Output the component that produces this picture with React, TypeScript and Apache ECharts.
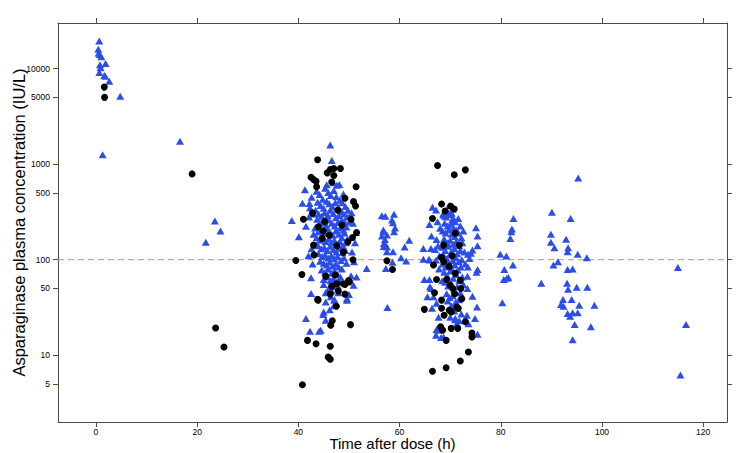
import React, { useEffect, useRef } from "react";
import * as echarts from "echarts";

// ---- axis ticks / labels ----
const xTickValues = [0, 20, 40, 60, 80, 100, 120];
const yTickValues = [5, 10, 50, 100, 500, 1000, 5000, 10000];
const xRange = [-7.5, 124.7];
const yRange = [2, 30000];
const referenceConcentration = 100;
const xTitle = "Time after dose (h)";
const yTitle = "Asparaginase plasma concentration (IU/L)";

// ---- triangles (blue) : [time (h), concentration (IU/L)] ----
const triEarly = [
  [0.65, 19400], [0.46, 15900], [0.55, 14600], [0.73, 14000], [1.05, 13300], [0.79, 11000],
  [1.9, 11300], [0.92, 10200], [0.67, 9100], [1.65, 8450], [1.85, 8300], [2.63, 7360],
  [4.8, 5130], [1.32, 1250], [16.6, 1740], [23.5, 254], [24.6, 200], [21.7, 152],
];
const triDay2Outer = [
  [46.3, 1590], [46.6, 1090], [41.3, 540], [42.6, 450], [40.8, 390], [42.2, 387], [38.7, 257],
  [40.1, 174], [41.5, 224], [43.0, 185], [48.1, 612], [48.9, 488], [51.4, 192], [42.5, 64.6],
  [45.0, 55], [46.8, 56], [47.8, 53], [50.9, 54], [53.5, 81], [42.5, 44.3], [50.0, 43.3],
  [49.6, 37.7], [45.4, 36], [47.1, 37.7], [45.0, 28.4], [44.9, 26.7], [41.5, 24.2], [45.4, 23.2],
  [42.3, 17.8], [44.1, 17.8], [44.4, 18.2], [51.5, 66], [50.4, 68], [49.6, 39.3], [47.1, 38.4],
  [42.3, 350], [42.9, 300], [42.1, 280], [50.5, 310], [50.8, 240], [51.2, 150], [50.6, 120],
  [51.0, 95], [42.6, 130], [42.0, 110], [42.8, 90], [46.9, 640], [47.6, 600], [45.6, 610],
];
const triDay2Core = [
  [43.6, 520], [44.2, 480], [44.8, 430], [45.3, 560], [45.9, 505], [46.4, 470], [47.0, 530],
  [47.5, 455], [48.2, 420], [48.7, 395], [49.3, 360], [49.8, 330], [43.8, 400], [44.4, 370],
  [45.0, 345], [45.6, 410], [46.1, 385], [46.7, 360], [47.3, 395], [47.9, 350], [48.5, 320],
  [49.0, 300], [49.6, 280], [43.4, 330], [44.0, 300], [44.6, 285], [45.2, 310], [45.8, 290],
  [46.3, 330], [46.9, 305], [47.4, 275], [48.0, 290], [48.6, 260], [49.2, 245], [50.1, 250],
  [43.7, 265], [44.3, 240], [44.9, 255], [45.5, 230], [46.0, 260], [46.6, 240], [47.2, 225],
  [47.8, 245], [48.3, 215], [48.9, 205], [49.5, 220], [43.3, 215], [43.9, 195], [44.5, 205],
  [45.1, 190], [45.7, 210], [46.2, 195], [46.8, 180], [47.4, 200], [48.0, 185], [48.6, 170],
  [49.1, 190], [49.7, 165], [43.6, 170], [44.2, 160], [44.8, 175], [45.4, 155], [46.0, 165],
  [46.5, 150], [47.1, 160], [47.7, 145], [48.2, 155], [48.8, 140], [49.4, 150], [43.9, 140],
  [44.5, 130], [45.1, 135], [45.7, 125], [46.3, 138], [46.9, 128], [47.5, 120], [48.1, 132],
  [48.7, 118], [49.3, 125], [44.0, 115], [44.7, 108], [45.3, 112], [45.9, 104], [46.5, 110],
  [47.1, 102], [47.7, 108], [48.4, 98], [49.0, 105], [44.3, 96], [45.0, 92], [45.6, 88],
  [46.2, 94], [46.8, 86], [47.4, 90], [48.0, 84], [48.6, 80], [49.5, 92], [44.6, 78],
  [45.3, 74], [45.9, 80], [46.5, 72], [47.1, 76], [47.7, 70], [48.3, 66], [45.0, 62],
  [45.7, 66], [46.3, 60], [46.9, 63], [47.5, 58], [48.1, 61], [46.0, 50], [46.6, 47],
  [47.2, 52], [45.4, 45], [47.9, 45], [46.4, 41], [47.0, 33], [46.2, 30],
];
const triDay2Late = [
  [56.5, 288], [57.2, 285], [58.9, 299], [58.5, 260], [58.7, 244], [59.1, 214], [58.9, 196],
  [56.8, 205], [57.5, 181], [56.8, 196], [56.5, 177], [57.1, 163], [56.9, 148], [57.5, 136],
  [57.1, 146], [56.9, 137], [57.5, 121], [58.7, 121], [61.9, 160], [61.0, 136], [60.3, 105],
  [61.3, 96.6], [58.6, 94], [57.3, 81], [57.6, 31.6],
];
const triDay3Outer = [
  [66.5, 354], [67.2, 331], [68.7, 293], [70.3, 306], [70.6, 270], [65.9, 234], [68.0, 213],
  [66.3, 177], [64.7, 131], [66.2, 131], [67.3, 163], [67.0, 128], [75.1, 216], [75.4, 177],
  [75.4, 140], [73.5, 114], [73.8, 103], [74.4, 126], [74.1, 117], [65.9, 99], [67.2, 99],
  [68.8, 95], [75.4, 79], [75.2, 74], [73.4, 67], [73.5, 84], [64.7, 101], [65.8, 101],
  [67.2, 16.2], [68.2, 15.3], [67.6, 18.2], [73.6, 21.4], [75.4, 16.6], [71.3, 21.4],
  [73.3, 26.2], [74.9, 24.2], [66.4, 31], [67.7, 25], [65.5, 41], [66.7, 41], [66.2, 50],
  [64.9, 62], [65.9, 62], [73.4, 50], [74.4, 41.5], [75.3, 32], [66.0, 52], [67.3, 35],
  [67.3, 18.6], [68.7, 15.5], [71.0, 24.2], [71.8, 22.9], [68.9, 286], [69.4, 320],
  [69.8, 370], [70.5, 340],
];
const triDay3Core = [
  [68.6, 300], [69.2, 280], [69.8, 295], [70.4, 260], [71.0, 250], [71.6, 270], [68.9, 240],
  [69.5, 225], [70.1, 235], [70.7, 215], [71.3, 205], [72.0, 225], [68.5, 200], [69.1, 190],
  [69.7, 205], [70.3, 185], [70.9, 175], [71.5, 190], [72.2, 170], [68.8, 165], [69.4, 150],
  [70.0, 160], [70.6, 145], [71.2, 155], [71.8, 140], [72.4, 150], [68.4, 135], [69.0, 125],
  [69.6, 138], [70.2, 120], [70.8, 130], [71.4, 115], [72.0, 125], [68.7, 110], [69.3, 102],
  [69.9, 112], [70.5, 98], [71.1, 105], [71.7, 95], [72.3, 100], [68.5, 90], [69.1, 84],
  [69.7, 92], [70.3, 80], [70.9, 88], [71.5, 78], [72.1, 84], [68.8, 74], [69.4, 68],
  [70.0, 76], [70.6, 64], [71.2, 70], [71.8, 60], [72.4, 66], [69.0, 58], [69.6, 53],
  [70.2, 56], [70.8, 48], [71.4, 52], [72.0, 45], [69.3, 44], [69.9, 40], [70.5, 42],
  [71.1, 36], [71.7, 38], [70.2, 33], [70.8, 29], [71.4, 31], [72.2, 27], [70.0, 25],
  [71.0, 23.5], [69.5, 37], [68.4, 60], [72.6, 55], [67.8, 80], [67.6, 140], [67.9, 110],
  [72.8, 120], [73.0, 90], [67.5, 250], [72.6, 200],
];
const triDay4 = [
  [79.9, 114], [81.1, 109], [82.4, 88], [80.7, 79], [81.2, 64], [80.3, 35.5], [82.5, 270],
  [82.2, 209], [82.1, 196], [81.9, 167], [80.6, 62], [81.5, 65],
  [90.1, 314], [93.8, 270], [89.9, 184], [89.9, 152], [90.6, 133], [92.9, 164], [93.3, 133],
  [93.2, 121], [91.3, 95], [90.4, 88], [93.2, 79], [94.2, 80], [95.2, 114], [97.0, 105],
  [88.0, 56.5], [93.1, 56.5], [93.3, 49], [95.0, 51.5], [97.1, 51.5], [92.3, 38.3], [94.0, 38.3],
  [91.9, 34], [92.4, 32.6], [95.5, 33.4], [98.5, 33.4], [93.2, 27.3], [94.2, 27.9], [95.2, 27.9],
  [93.7, 25.6], [94.6, 21], [97.8, 19.9], [94.2, 14.5], [95.3, 716],
  [115.0, 83], [116.6, 21], [115.5, 6.2],
];

// ---- circles (black) : [time (h), concentration (IU/L)] ----
const circEarly = [
  [1.65, 6400], [1.7, 5000], [19.0, 790], [23.65, 19.3], [25.3, 12.2],
];
const circDay2 = [
  [43.8, 1110], [46.3, 880], [47.0, 900], [48.3, 900], [45.7, 810], [47.0, 760], [42.5, 730],
  [43.0, 690], [43.5, 660], [43.6, 580], [46.6, 650], [51.4, 580], [50.9, 405], [51.3, 365],
  [50.4, 265], [51.5, 192], [50.7, 171], [49.8, 154], [49.2, 440], [41.0, 265], [42.8, 307],
  [43.95, 221], [43.0, 142], [44.7, 167], [43.1, 112], [50.8, 100], [39.5, 98], [40.7, 70],
  [45.4, 67], [47.3, 69], [47.6, 56], [46.6, 52.7], [48.9, 56], [50.1, 58.6], [47.9, 47],
  [46.3, 43.6], [49.2, 43.6], [43.9, 37.7], [47.5, 32.6], [46.7, 22.9], [46.4, 20.6],
  [50.3, 20.9], [41.8, 14.3], [43.5, 13.2], [46.3, 12.4], [45.9, 9.55], [46.3, 9.06],
  [40.8, 4.9], [49.9, 60.5], [49.2, 55], [43.8, 38.4], [47.8, 330], [45.2, 250], [48.6, 230],
  [46.1, 180], [48.9, 120], [44.9, 200], [47.6, 140], [57.5, 97.5], [58.6, 79],
];
const circDay3 = [
  [67.5, 966], [70.8, 773], [73.0, 871], [68.3, 382], [70.1, 363], [70.8, 339], [69.0, 323],
  [66.5, 270], [71.0, 189], [71.8, 142], [68.7, 142], [68.3, 105], [68.7, 95], [66.7, 88],
  [67.3, 62], [69.3, 62], [70.0, 54], [70.5, 50], [72.0, 61], [72.1, 50], [72.3, 39],
  [66.9, 45], [68.3, 37.7], [64.9, 30.2], [68.3, 31], [70.2, 28.4], [71.3, 32], [69.8, 29.5],
  [71.6, 31], [68.8, 26.2], [68.1, 19.9], [68.5, 18.3], [70.2, 19.1], [71.5, 19.1], [69.2, 14.3],
  [73.0, 22.4], [74.3, 17.1], [74.3, 15.5], [73.6, 10.8], [72.0, 8.7], [69.2, 7.4], [66.5, 6.8],
  [70.4, 110], [69.8, 85], [71.0, 72], [70.9, 44],
];

const triangleData = [
  ...triEarly, ...triDay2Outer, ...triDay2Core, ...triDay2Late,
  ...triDay3Outer, ...triDay3Core, ...triDay4,
];
const circleData = [...circEarly, ...circDay2, ...circDay3];

const FONT = "Liberation Sans, Arial, Helvetica, sans-serif";
const FRAME = "#4a4a4a";

export default function App() {
  const ref = useRef<HTMLDivElement>(null);
  useEffect(() => {
    if (!ref.current) return;
    const chart = echarts.init(ref.current, null, { renderer: "svg" });
    const xBase = {
      type: "value" as const,
      min: xRange[0],
      max: xRange[1],
      splitLine: { show: false },
      axisLine: { show: true, onZero: false, lineStyle: { color: FRAME, width: 1 } },
      axisTick: { show: true, length: 5, customValues: xTickValues, lineStyle: { color: FRAME } },
    };
    const yBase = {
      type: "log" as const,
      logBase: 10,
      min: yRange[0],
      max: yRange[1],
      splitLine: { show: false },
      axisLine: { show: true, onZero: false, lineStyle: { color: FRAME, width: 1 } },
      axisTick: { show: true, length: 5, customValues: yTickValues, lineStyle: { color: FRAME } },
    };
    chart.setOption({
      animation: false,
      backgroundColor: "#ffffff",
      textStyle: { fontFamily: FONT },
      grid: { left: 58, right: 15, top: 23, bottom: 31, containLabel: false, outerBoundsMode: "none" },
      xAxis: [
        {
          ...xBase,
          position: "bottom",
          name: xTitle,
          nameLocation: "middle",
          nameGap: 14,
          nameMoveOverlap: false,
          nameTextStyle: { fontSize: 15, color: "#000", fontFamily: FONT },
          axisLabel: {
            show: true,
            customValues: xTickValues,
            fontSize: 8.5,
            color: "#000",
            margin: 5,
            fontFamily: FONT,
            formatter: (v: number) => String(Math.round(v)),
          },
        },
        { ...xBase, position: "top", axisLabel: { show: false } },
      ],
      yAxis: [
        {
          ...yBase,
          position: "left",
          name: yTitle,
          nameLocation: "middle",
          nameGap: 31,
          nameMoveOverlap: false,
          nameTextStyle: { fontSize: 16.5, color: "#000", fontFamily: FONT },
          axisLabel: {
            show: true,
            customValues: yTickValues,
            fontSize: 8.5,
            color: "#000",
            margin: 8,
            fontFamily: FONT,
            formatter: (v: number) => String(Math.round(v)),
          },
        },
        { ...yBase, position: "right", axisLabel: { show: false } },
      ],
      series: [
        {
          type: "line",
          name: "Reference",
          xAxisIndex: 0,
          yAxisIndex: 0,
          silent: true,
          symbol: "none",
          data: [
            [xRange[0], referenceConcentration],
            [xRange[1], referenceConcentration],
          ],
          lineStyle: { color: "#f27c7c", type: [6, 4], width: 1 },
          itemStyle: { color: "#f27c7c" },
          z: 1,
        },
        {
          type: "scatter",
          name: "Triangles",
          xAxisIndex: 0,
          yAxisIndex: 0,
          symbol: "triangle",
          symbolSize: [8, 7],
          itemStyle: { color: "#2b4de8", opacity: 1 },
          data: triangleData,
          z: 2,
        },
        {
          type: "scatter",
          name: "Circles",
          xAxisIndex: 0,
          yAxisIndex: 0,
          symbol: "circle",
          symbolSize: 7,
          itemStyle: { color: "#000000", opacity: 1 },
          data: circleData,
          z: 3,
        },
      ],
    });
    return () => chart.dispose();
  }, []);
  return (
    <div
      ref={ref}
      style={{ position: "fixed", left: 0, top: 0, width: 742, height: 453 }}
    />
  );
}
